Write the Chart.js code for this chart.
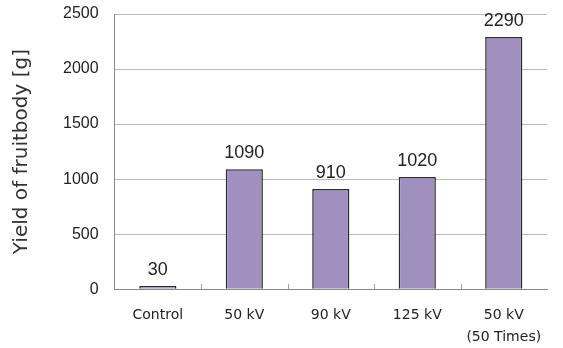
<!DOCTYPE html>
<html><head><meta charset="utf-8">
<script src="https://cdn.jsdelivr.net/npm/chart.js@4"></script>
<style>html,body{margin:0;padding:0;background:#fff;}#wrap{width:563px;height:348px;}</style>
</head><body><div id="wrap"><canvas id="c"></canvas></div>
<script>
const categories = ["Control", "50 kV", "90 kV", "125 kV", ["50 kV", "(50 Times)"]];
const yieldValues = [30, 1090, 910, 1020, 2290];
const yTicks = [0, 500, 1000, 1500, 2000, 2500];

const valueLabels = {
  id: 'valueLabels',
  afterDatasetsDraw(chart) {
    const ctx = chart.ctx;
    const meta = chart.getDatasetMeta(0);
    ctx.save();
    ctx.font = '18px "Liberation Sans", Arial, sans-serif';
    ctx.fillStyle = '#222';
    ctx.textAlign = 'center';
    ctx.textBaseline = 'bottom';
    meta.data.forEach((bar, i) => {
      ctx.fillText(String(yieldValues[i]), bar.x, bar.y - 7);
    });
    ctx.restore();
  }
};
const innerTicks = {
  id: 'innerTicks',
  afterDraw(chart) {
    const xs = chart.scales.x, ctx = chart.ctx;
    const n = categories.length;
    const w = (xs.right - xs.left) / n;
    ctx.save();
    ctx.strokeStyle = '#999';
    ctx.lineWidth = 1;
    for (let i = 1; i < n; i++) {
      const x = Math.round(xs.left + w * i) + 0.5;
      ctx.beginPath();
      ctx.moveTo(x, xs.top);
      ctx.lineTo(x, xs.top - 5);
      ctx.stroke();
    }
    ctx.restore();
  }
};

new Chart(document.getElementById('c'), {
  type: 'bar',
  data: {
    labels: categories,
    datasets: [{
      data: yieldValues,
      backgroundColor: '#a090c0',
      borderColor: '#2a2a2a',
      borderWidth: 1.5,
      categoryPercentage: 0.43,
      barPercentage: 1.0
    }]
  },
  options: {
    responsive: true,
    maintainAspectRatio: false,
    animation: false,
    layout: { padding: { left: 6, right: 16, top: 14, bottom: -8 } },
    plugins: { legend: { display: false }, tooltip: { enabled: false } },
    scales: {
      x: {
        grid: { display: false },
        border: { color: '#888' },
        ticks: { color: '#222', font: { size: 14, family: '"DejaVu Sans", sans-serif', lineHeight: 1.6 }, padding: 7, maxRotation: 0 }
      },
      y: {
        min: 0, max: 2500,
        afterBuildTicks(scale) { scale.ticks = yTicks.map(v => ({ value: v })); },
        afterFit(scale) { scale.paddingTop = 0; },
        grid: { color: '#bbb', drawTicks: false },
        border: { color: '#888' },
        ticks: { color: '#222', font: { size: 16, family: '"Liberation Sans", Arial, sans-serif' }, padding: 16, callback: v => String(v) },
        title: { display: true, text: 'Yield of fruitbody [g]', color: '#333', font: { size: 20, family: '"DejaVu Sans", sans-serif' }, padding: { bottom: 13 } }
      }
    }
  },
  plugins: [valueLabels, innerTicks]
});
</script></body></html>
